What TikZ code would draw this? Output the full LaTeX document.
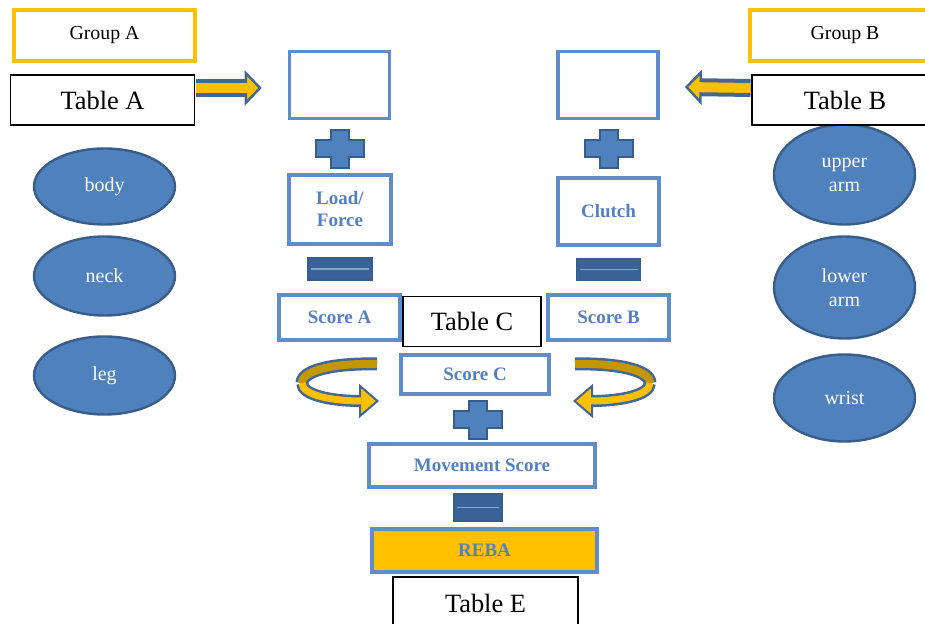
\documentclass[tikz,border=0pt]{standalone}
\usepackage{fontspec}
\setmainfont{Liberation Serif}
\usetikzlibrary{arrows.meta,shapes.geometric}
\definecolor{gold}{RGB}{255,192,0}
\definecolor{darkgold}{RGB}{196,150,0}
\definecolor{boxblue}{RGB}{96,140,202}
\definecolor{txtblue}{RGB}{84,128,194}
\definecolor{partblue}{RGB}{79,129,189}
\definecolor{partedge}{RGB}{56,93,138}
\definecolor{arrblue}{RGB}{65,103,152}
\definecolor{eqblue}{RGB}{58,98,150}

\begin{document}
\begin{tikzpicture}[x=0.5pt,y=-0.5pt,
    grpbox/.style={draw=gold,line width=2pt,fill=white,minimum width=90.5pt,minimum height=25.5pt,
                   inner sep=0pt,font=\fontsize{9.9}{12}\selectfont},
    tabbox/.style={draw=black,line width=0.6pt,fill=white,minimum width=92pt,minimum height=25pt,
                   inner sep=0pt,font=\fontsize{13.2}{15}\selectfont},
    stepbox/.style={draw=boxblue,line width=1.8pt,fill=white,text=txtblue,inner sep=0pt,align=center,
                    font=\bfseries\fontsize{9.5}{11}\selectfont},
    part/.style={ellipse,draw=partedge,line width=1.2pt,fill=partblue,text=white,inner sep=0pt,
                 align=center,minimum width=70.5pt,font=\fontsize{10}{12}\selectfont},
    blockarr/.style={draw=arrblue,line width=9pt,-{Triangle[length=8.5pt,width=17.5pt,fill=gold,line width=1.2pt]}},
    blockin/.style={draw=gold,line width=5pt,shorten >=7pt}
  ]
    \useasboundingbox (0,0) rectangle (925,624);

    % body parts
    \node[part,minimum height=38pt] (body) at (104.5,186.5) {body};
    \node[part,minimum height=39.5pt] (neck) at (104.5,276) {neck};
    \node[part,minimum height=39pt] (leg) at (104.5,375.5) {leg};
    \node[part,minimum height=50pt] (uparm) at (844.5,174.5) {upper\\arm};
    \node[part,minimum height=51pt] (lowarm) at (844.5,287.5) {lower\\arm};
    \node[part,minimum height=43.5pt] (wrist) at (844.5,398) {wrist};

    % score boxes
    \node[stepbox,minimum width=50pt,minimum height=33.5pt] (inA) at (339.5,85) {};
    \node[stepbox,minimum width=50pt,minimum height=33.5pt] (inB) at (608,85) {};
    \node[stepbox,minimum width=51pt,minimum height=34.5pt] (load) at (340,209.5) {Load/\\Force};
    \node[stepbox,minimum width=50.5pt,minimum height=33.5pt] (clutch) at (608.5,211.5) {Clutch};
    \node[stepbox,minimum width=60.5pt,minimum height=22.5pt] (scoreA) at (339.5,317.5) {Score A};
    \node[stepbox,minimum width=60.5pt,minimum height=22.5pt] (scoreB) at (608.5,317.5) {Score B};
    \node[stepbox,minimum width=74pt,minimum height=19.7pt] (scoreC) at (475,374.5) {Score C};
    \node[stepbox,minimum width=113pt,minimum height=21.7pt] (move) at (482,465.5) {Movement Score};
    \node[stepbox,fill=gold,minimum width=112.5pt,minimum height=21.7pt] (reba) at (484.5,550.5) {REBA};

    % plus and equals marks
    \foreach \cx/\cy in {340/149, 609/149, 477.5/420} {
      \draw[draw=partedge,fill=partblue,line width=1pt,shift={(\cx,\cy)}]
        (-9,-19) -- (9,-19) -- (9,-8.5) -- (24,-8.5) -- (24,8.5) -- (9,8.5) -- (9,19) -- (-9,19)
        -- (-9,8.5) -- (-24,8.5) -- (-24,-8.5) -- (-9,-8.5) -- cycle;
    }
    \foreach \ex/\ey/\ew/\eh in {340/269/32/11, 608.5/269.5/32/11, 478/507.5/24/13.5} {
      \draw[draw=partedge,fill=eqblue,line width=0.8pt] (\ex-\ew,\ey-\eh) rectangle (\ex+\ew,\ey+\eh);
      \draw[partblue!70!white,line width=0.8pt] (\ex-\ew+3,\ey) -- (\ex+\ew-3,\ey);
    }

    % turning arrows beside Score C
    \foreach \s/\o in {1/0, -1/952} {
      \begin{scope}[shift={(\o,0)},xscale=\s]
        \draw[arrblue,line width=6.5pt] (377,364) .. controls (335,363) and (302,370) .. (302,383);
        \draw[darkgold,line width=4pt] (377,364) .. controls (335,363) and (302,370) .. (302,383);
        \draw[arrblue,line width=6pt,-{Triangle[length=10pt,width=17pt,fill=gold,line width=1pt]}]
          (302,383) .. controls (302,396) and (335,401) .. (379,401);
        \draw[gold,line width=3.5pt,shorten >=9pt] (302,383) .. controls (302,396) and (335,401) .. (379,401);
      \end{scope}
    }

    % groups and tables
    \node[grpbox] (grpA) at (104.5,35.5) {Group A};
    \node[grpbox,minimum width=95pt] (grpB) at (845,35.5) {Group B};
    \node[tabbox] (tabA) at (102.5,100) {Table A};
    \node[tabbox,minimum width=93pt] (tabB) at (845,100) {Table B};
    \node[tabbox,minimum width=69pt,minimum height=25pt] (tabC) at (472,321.5) {Table C};
    \node[tabbox,minimum width=92.5pt,minimum height=26pt] (tabE) at (485.5,603) {Table E};

    % table arrows
    \draw[blockarr] ([xshift=0.4pt,yshift=6pt]tabA.east) -- ([xshift=-13pt,yshift=-1.5pt]inA.west);
    \draw[blockin] ([xshift=0.4pt,yshift=6pt]tabA.east) -- ([xshift=-13pt,yshift=-1.5pt]inA.west);
    \draw[blockarr] ([xshift=-0.4pt,yshift=6pt]tabB.west) -- ([xshift=12.5pt,yshift=-1pt]inB.east);
    \draw[blockin] ([xshift=-0.4pt,yshift=6pt]tabB.west) -- ([xshift=12.5pt,yshift=-1pt]inB.east);
  \end{tikzpicture}
\end{document}
